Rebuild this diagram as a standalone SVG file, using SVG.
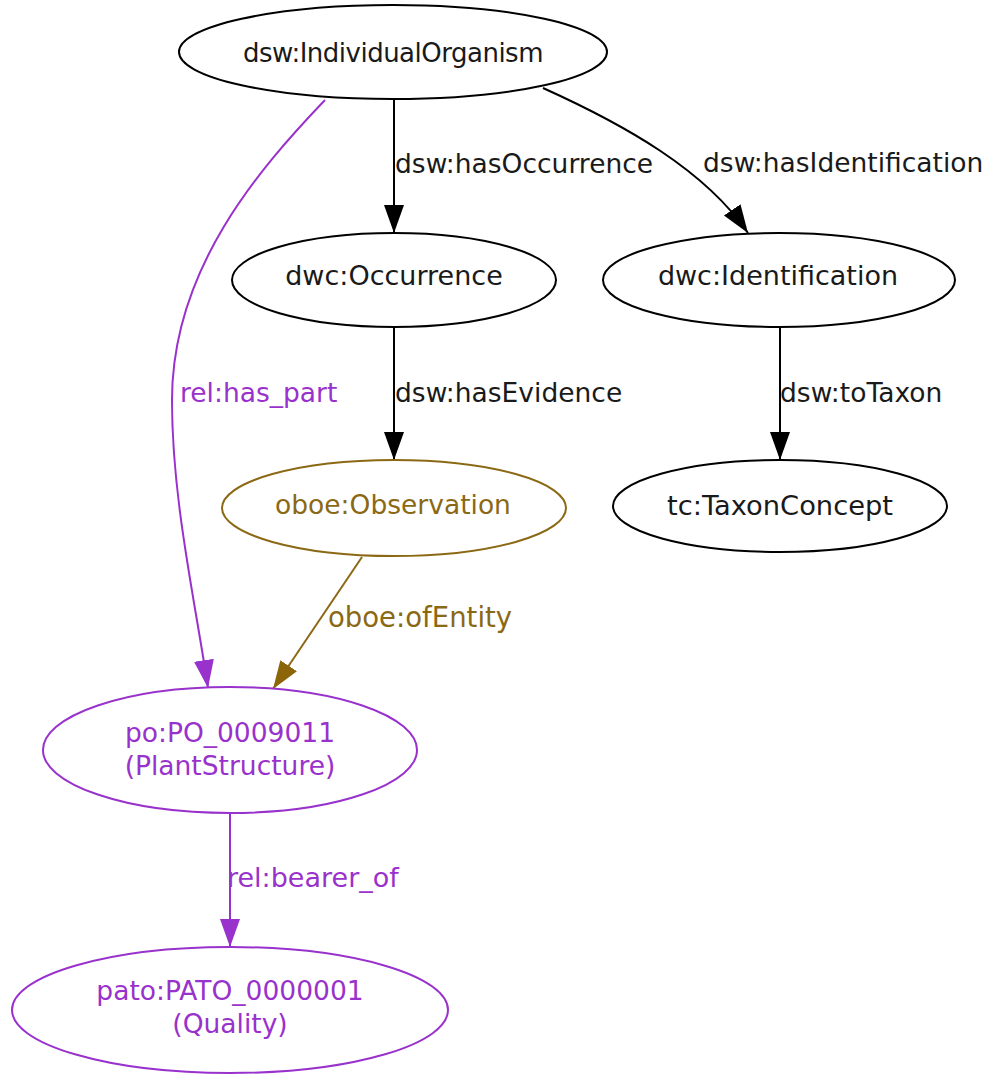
<svg xmlns="http://www.w3.org/2000/svg" width="989" height="1074" viewBox="0 0 989 1074">
<style>
  .n ellipse { fill: #ffffff; stroke-width: 2; }
  .blk ellipse { stroke: #000000; }
  .olv ellipse { stroke: #8B6914; }
  .pur ellipse { stroke: #9932CC; }
  text { font-family: "DejaVu Sans", "Liberation Sans", sans-serif; font-size: 26.5px; text-anchor: middle; }
  .blk text, text.blk { fill: #1a1a1a; }
  .olv text, text.olv { fill: #8B6914; }
  .pur text, text.pur { fill: #9932CC; }
  .lbl { text-anchor: start; }
  .e { fill: none; stroke-width: 2; }
  .e.blk { stroke: #000000; }
  .e.olv { stroke: #8B6914; }
  .e.pur { stroke: #9932CC; }
</style>
<defs>
  <marker id="ab" markerUnits="userSpaceOnUse" markerWidth="30" markerHeight="22" refX="28" refY="10" orient="auto">
    <path d="M0,0 L28,10 L0,20 z" fill="#000000"/>
  </marker>
  <marker id="ao" markerUnits="userSpaceOnUse" markerWidth="30" markerHeight="22" refX="28" refY="10" orient="auto">
    <path d="M0,0 L28,10 L0,20 z" fill="#8B6508"/>
  </marker>
  <marker id="ap" markerUnits="userSpaceOnUse" markerWidth="30" markerHeight="22" refX="28" refY="10" orient="auto">
    <path d="M0,0 L28,10 L0,20 z" fill="#9932CC"/>
  </marker>
</defs>
<rect width="989" height="1074" fill="#ffffff"/>

<g id="connectors">
  <path class="e blk" d="M394,100 L394,233" marker-end="url(#ab)"/>
  <text class="blk lbl" x="395" y="173">dsw:hasOccurrence</text>
  <path class="e blk" d="M543,88 C625,125 705,170 748,233" marker-end="url(#ab)"/>
  <text class="blk lbl" x="703" y="172">dsw:hasIdentification</text>
  <path class="e blk" d="M394,328 L394,460" marker-end="url(#ab)"/>
  <text class="blk lbl" x="395" y="402">dsw:hasEvidence</text>
  <path class="e blk" d="M780,328 L780,460" marker-end="url(#ab)"/>
  <text class="blk lbl" x="780" y="402">dsw:toTaxon</text>
  <path class="e pur" d="M325,100 C258,170 172,270 172,400 C172,500 195,600 208,688" marker-end="url(#ap)"/>
  <text class="pur lbl" x="180" y="402">rel:has_part</text>
  <path class="e olv" d="M362,557 L273,689" marker-end="url(#ao)"/>
  <text class="olv lbl" x="328" y="627" style="font-size:27.5px">oboe:ofEntity</text>
  <path class="e pur" d="M230,813 L230,947" marker-end="url(#ap)"/>
  <text class="pur lbl" x="227" y="887" style="font-size:27px">rel:bearer_of</text>
</g>

<g id="node-individualorganism" class="n blk">
  <ellipse cx="393" cy="52" rx="214" ry="47"/>
  <text x="393" y="62" style="font-size:26px;letter-spacing:-0.5px">dsw:IndividualOrganism</text>
</g>
<g id="node-occurrence" class="n blk">
  <ellipse cx="394" cy="280" rx="162" ry="47"/>
  <text x="394" y="285" style="font-size:27px">dwc:Occurrence</text>
</g>
<g id="node-identification" class="n blk">
  <ellipse cx="779" cy="280" rx="176" ry="47"/>
  <text x="778" y="285" style="font-size:27px">dwc:Identification</text>
</g>
<g id="node-taxonconcept" class="n blk">
  <ellipse cx="780" cy="506" rx="167" ry="46"/>
  <text x="780" y="515" style="font-size:27.3px">tc:TaxonConcept</text>
</g>
<g id="node-observation" class="n olv">
  <ellipse cx="394" cy="508" rx="172" ry="48"/>
  <text x="393" y="514">oboe:Observation</text>
</g>
<g id="node-plantstructure" class="n pur">
  <ellipse cx="230" cy="750" rx="187" ry="63"/>
  <text x="230" y="742">po:PO_0009011</text>
  <text x="230" y="775">(PlantStructure)</text>
</g>
<g id="node-quality" class="n pur">
  <ellipse cx="230" cy="1010" rx="218" ry="63"/>
  <text x="230" y="1000">pato:PATO_0000001</text>
  <text x="230" y="1033">(Quality)</text>
</g>
</svg>
